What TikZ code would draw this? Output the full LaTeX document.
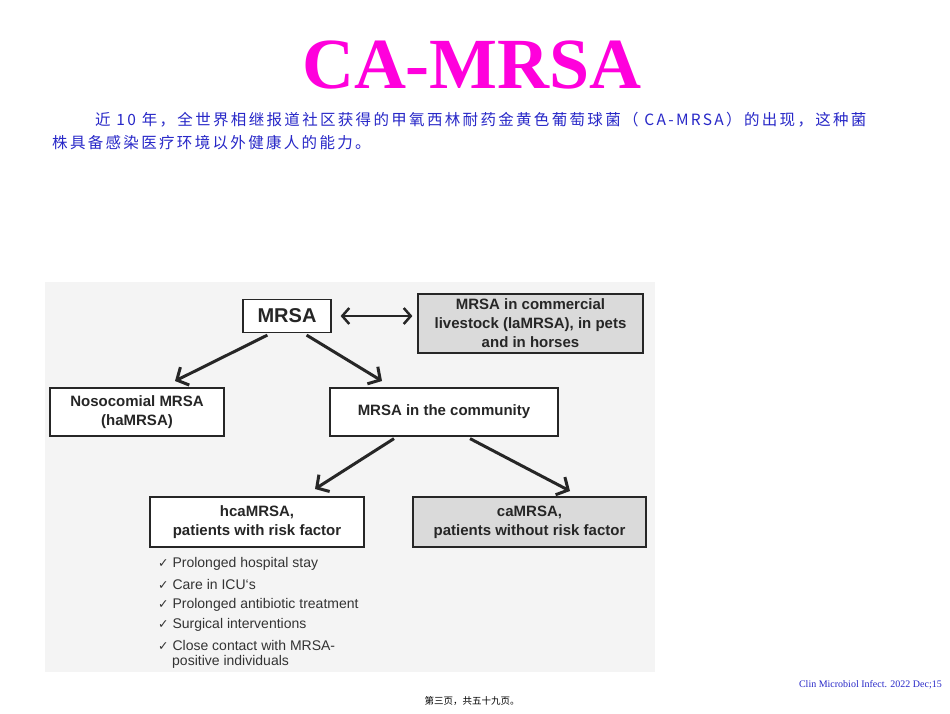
\documentclass[tikz,border=0pt]{standalone}
\usetikzlibrary{arrows.meta}
\usepackage{fontspec}
\setmainfont{Liberation Serif}
\newfontfamily\cjk{Noto Sans CJK SC}
\newfontfamily\dia{Liberation Sans}
\newfontfamily\dv{DejaVu Sans}
\definecolor{txtblue}{RGB}{40,40,200}
\definecolor{boxgrey}{RGB}{218,218,218}
\definecolor{panel}{RGB}{244,244,244}
\begin{document}
\begin{tikzpicture}[x=1pt,y=-1pt,
  bx/.style={draw=black!85,line width=1.2pt,align=center,font=\dia\bfseries\fontsize{15}{19}\selectfont,inner sep=0pt,text=black!85},
  arr/.style={-{Straight Barb[length=9pt,width=20pt,line width=3pt]},line width=3pt,black!85},
  item/.style={anchor=west,font=\dia\fontsize{14}{16}\selectfont,text=black!80,inner sep=0pt}]
\useasboundingbox (0,0) rectangle (950,713);
\fill[white] (0,0) rectangle (950,713);
\node[font=\bfseries\fontsize{72}{72}\selectfont,text={rgb,255:red,255;green,0;blue,220}] (title) at (472,65) {CA-MRSA};
\node[anchor=west,inner sep=0pt,text=txtblue,font=\cjk\fontsize{15.5}{18}\selectfont\addfontfeature{LetterSpace=15}] (l1) at (95,120) {近 10 年，全世界相继报道社区获得的甲氧西林耐药金黄色葡萄球菌（ CA-MRSA）的出现，这种菌};
\node[anchor=west,inner sep=0pt,text=txtblue,font=\cjk\fontsize{15.5}{18}\selectfont\addfontfeature{LetterSpace=15}] (l2) at (52,143) {株具备感染医疗环境以外健康人的能力。};
\fill[panel] (45,282) rectangle (655,672);
\node[bx,fill=white,minimum width=88pt,minimum height=33pt,font=\dia\bfseries\fontsize{20}{22}\selectfont] (mrsa) at (287,316) {MRSA};
\node[bx,fill=boxgrey,minimum width=225pt,minimum height=59pt] (live) at (530.5,323.5) {MRSA in commercial\\livestock (laMRSA), in pets\\and in horses};
\node[bx,fill=white,minimum width=174pt,minimum height=48pt] (noso) at (137,412) {Nosocomial MRSA\\(haMRSA)};
\node[bx,fill=white,minimum width=228pt,minimum height=48pt] (comm) at (444,412) {MRSA in the community};
\node[bx,fill=white,minimum width=214pt,minimum height=50pt] (hca) at (257,522) {hcaMRSA,\\patients with risk factor};
\node[bx,fill=boxgrey,minimum width=233pt,minimum height=50pt] (ca) at (529.5,522) {caMRSA,\\patients without risk factor};
\coordinate (a1) at (175,381); \coordinate (a2) at (382,381);
\coordinate (a3) at (315,489); \coordinate (a4) at (570,491);
\draw[arr] (mrsa.south west)++(25,2) coordinate (s1) -- (a1);
\draw[arr] (mrsa.south east)++(-25,2) coordinate (s2) -- (a2);
\draw[arr] (comm.south)++(-50,2) coordinate (s3) -- (a3);
\draw[arr] (comm.south)++(26,2) coordinate (s4) -- (a4);
\draw[{Straight Barb[length=7pt,width=16pt,line width=2.5pt]}-{Straight Barb[length=7pt,width=16pt,line width=2.5pt]},line width=2.5pt,black!85] (mrsa.east)++(9,0) -- ([xshift=-5pt]live.west|-mrsa.east);
\node[item] (i1) at (158,564) {{\dv\fontsize{12.5}{13}\selectfont ✓} Prolonged hospital stay};
\node[item] (i2) at (158,584) {{\dv\fontsize{12.5}{13}\selectfont ✓} Care in ICU‘s};
\node[item] (i3) at (158,604.5) {{\dv\fontsize{12.5}{13}\selectfont ✓} Prolonged antibiotic treatment};
\node[item] (i4) at (158,625) {{\dv\fontsize{12.5}{13}\selectfont ✓} Surgical interventions};
\node[item] (i5) at (158,645.5) {{\dv\fontsize{12.5}{13}\selectfont ✓} Close contact with MRSA-};
\node[item] (i6) at (172,662) {positive individuals};
\node[anchor=east,inner sep=0pt,text=txtblue,font=\fontsize{10}{12}\selectfont] (ref) at (942,685) {Clin Microbiol Infect. 2022 Dec;15};
\node[inner sep=0pt,font=\cjk\fontsize{9.5}{11}\selectfont] (foot) at (472,701) {第三页，共五十九页。};
\end{tikzpicture}
\end{document}
